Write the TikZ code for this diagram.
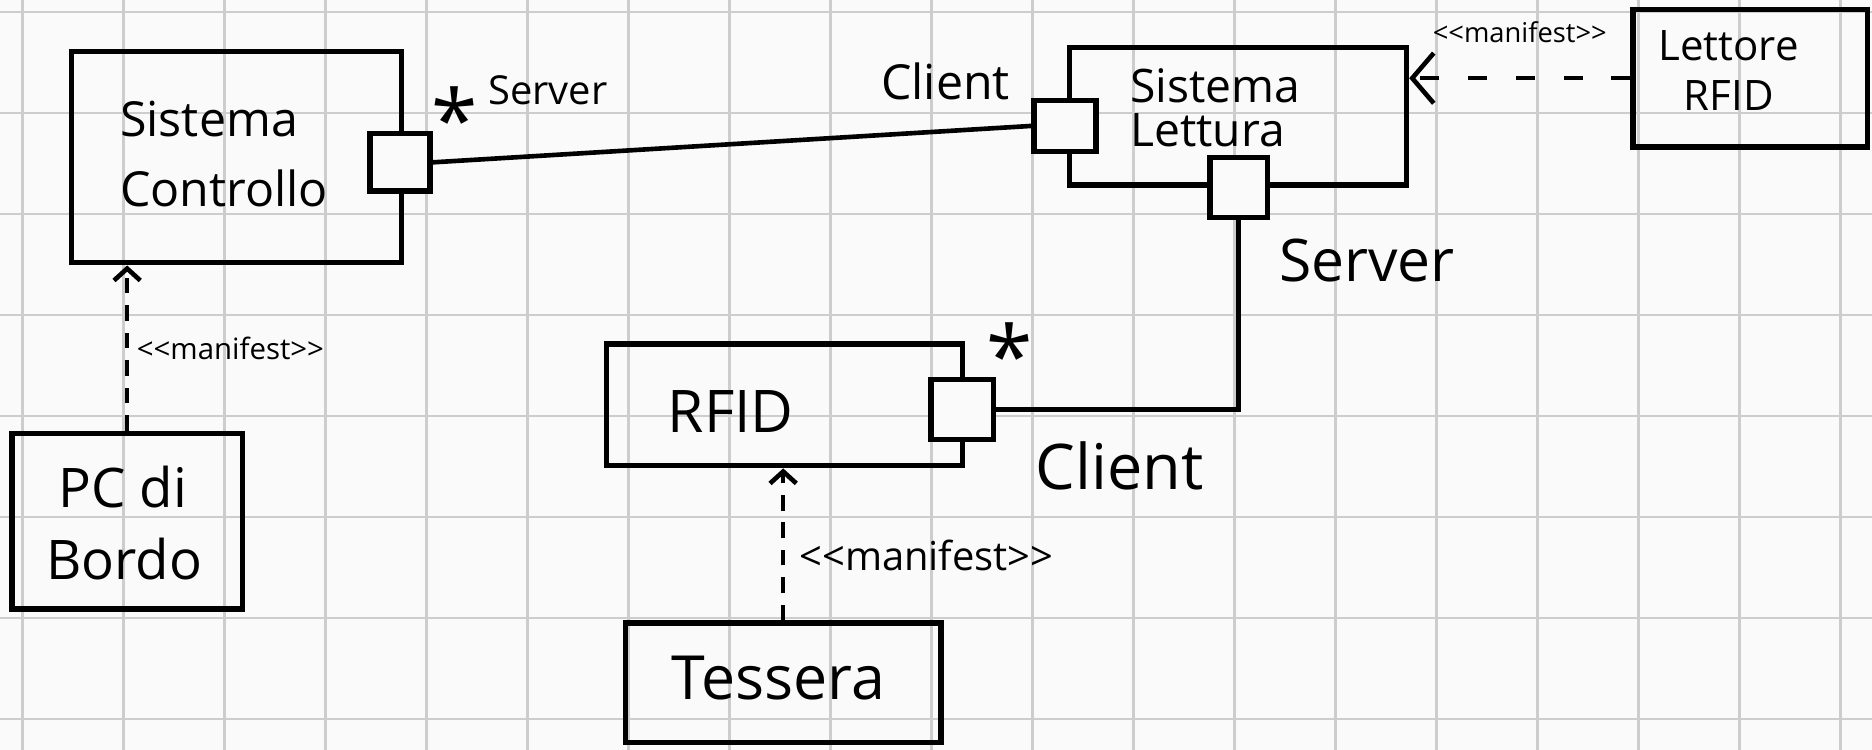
\documentclass[tikz,border=0pt]{standalone}
\usepackage{fontspec}
\setmainfont{Open Sans}
\usetikzlibrary{arrows.meta, positioning, calc}
\definecolor{carta}{HTML}{FAFAFA}
\definecolor{griglia}{HTML}{CDCDCD}
\newcommand{\manifesto}{<\kern0pt<manifest>\kern0pt>}

\begin{document}
\begin{tikzpicture}[x=0.01cm, y=-0.01cm,
  comp/.style={draw, line width=1.3pt, inner sep=0pt},
  porta/.style={draw, line width=1.3pt, fill=carta, inner sep=0pt, minimum width=0.5cm, minimum height=0.48cm},
  filo/.style={line width=1.1pt},
  manif/.style={line width=1.1pt, dash pattern=on 1.3mm off 1mm, -{Straight Barb[length=1mm,width=2.2mm]}},
  etic/.style={inner sep=0pt}]

%------------------------------------------------
% Foglio a quadretti
%------------------------------------------------
\useasboundingbox (0,0) rectangle (1568,628);
\fill[carta] (0,0) rectangle (1568,628);
\foreach \i in {0,...,18}
  \draw[griglia, line width=0.6pt] ({19+84.6*\i},0) -- ({19+84.6*\i},628);
\foreach \j in {0,...,7}
  \draw[griglia, line width=0.6pt] (0,{10+84.6*\j}) -- (1568,{10+84.6*\j});

%------------------------------------------------
% Componenti
%------------------------------------------------
\node[comp, minimum width=2.76cm, minimum height=1.77cm] (ctrl) at (198,131.5) {};
\node[comp, minimum width=2.82cm, minimum height=1.15cm] (lett) at (1037,97.5) {};
\node[comp, minimum width=1.96cm, minimum height=1.15cm] (lettore) at (1466,65.5) {};
\node[comp, minimum width=2.98cm, minimum height=1.02cm] (rfid) at (657,339) {};
\node[comp, minimum width=2.64cm, minimum height=1.0cm] (tess) at (656,572) {};
\node[comp, minimum width=1.93cm, minimum height=1.47cm] (pc) at (106.5,436.5) {};

% Porte
\node[porta] (ctrlP) at (335,136) {};
\node[porta, minimum width=0.52cm, minimum height=0.43cm] (lettP) at (892,105.5) {};
\node[porta, minimum width=0.48cm, minimum height=0.5cm] (lettS) at (1037.5,157) {};
\node[porta, minimum width=0.52cm, minimum height=0.5cm] (rfidP) at (806,343) {};

% Nomi dei componenti
\node[etic, align=left, anchor=west, font=\fontsize{11.5}{16.5}\selectfont] (ctrlT) at (100,129) {Sistema\\Controllo};
\node[etic, align=left, anchor=west, font=\fontsize{11}{10.5}\selectfont] (lettT) at (946,90) {Sistema\\Lettura};
\node[etic, align=center, font=\fontsize{10}{12}\selectfont] (lettoreT) at (1448,59) {Lettore\\RFID};
\node[etic, font=\fontsize{14}{16}\selectfont] (rfidT) at (612,345) {RFID};
\node[etic, font=\fontsize{14.5}{16}\selectfont] (tessT) at (652,568) {Tessera};
\node[etic, align=left, anchor=west, font=\fontsize{13}{17}\selectfont] (pcT) at (38,438) {\hspace{1mm}PC di\\Bordo};

%------------------------------------------------
% Collegamenti
%------------------------------------------------
\draw[filo] (ctrlP.east) -- (lettP.west);
\draw[filo] (lettS.south) |- (rfidP.east);

% Dipendenze <<manifest>>
\draw[manif, dash pattern=on 1.6mm off 2.4mm, -{Straight Barb[length=1.8mm,width=4.2mm]}]
  (lettore.west) -- (lettore.west -| lett.east);
\draw[manif] (tess.north) -- (tess.north |- rfid.south);
\draw[manif] (pc.north) -- (pc.north |- ctrl.south);

% Etichette
\node[etic, font=\fontsize{9.5}{11}\selectfont] (srvA) at (459,76) {Server};
\node[etic, anchor=base, font=\fontsize{20}{20}\selectfont] (astA) at (381,126) {*};
\node[etic, font=\fontsize{11.5}{13}\selectfont] (cliA) at (792,68) {Client};
\node[etic, font=\fontsize{14}{16}\selectfont] (srvB) at (1145,218) {Server};
\node[etic, anchor=base, font=\fontsize{20}{20}\selectfont] (astB) at (846,324) {*};
\node[etic, font=\fontsize{15}{17}\selectfont] (cliB) at (938,390) {Client};
\node[etic, font=\fontsize{6.5}{9}\selectfont] (manA) at (1273,27) {\manifesto};
\node[etic, font=\fontsize{7}{9}\selectfont] (manB) at (193,292) {\manifesto};
\node[etic, font=\fontsize{9.5}{12}\selectfont] (manC) at (776,465) {\manifesto};
\end{tikzpicture}
\end{document}
